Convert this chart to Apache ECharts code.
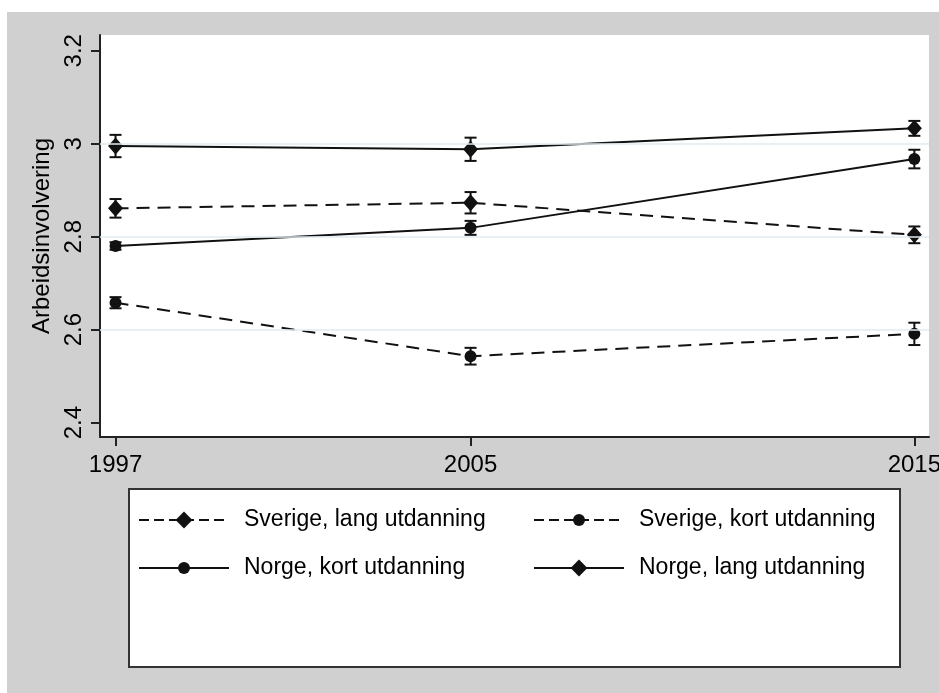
<!DOCTYPE html>
<html>
<head>
<meta charset="utf-8">
<script src="https://cdn.jsdelivr.net/npm/echarts@6/dist/echarts.min.js"></script>
<style>
  html, body { margin: 0; padding: 0; background: #fff; }
  #chart { width: 939px; height: 693px; }
</style>
</head>
<body>
<div id="chart"></div>
<script>
// survey years
var years = [1997, 2005, 2015];
var xTicks = [1997, 2005, 2015];
var yTicks = [2.4, 2.6, 2.8, 3, 3.2];
var gridValues = [2.6, 2.8, 3];

// means and half-width of the confidence interval, per group
var sverigeLang    = [2.861, 2.873, 2.804];
var sverigeLangErr = [0.020, 0.023, 0.018];
var sverigeKort    = [2.658, 2.543, 2.591];
var sverigeKortErr = [0.012, 0.018, 0.024];
var norgeKort      = [2.780, 2.819, 2.967];
var norgeKortErr   = [0.008, 0.015, 0.020];
var norgeLang      = [2.995, 2.988, 3.033];
var norgeLangErr   = [0.024, 0.025, 0.016];

var font = 'Liberation Sans, Arial, sans-serif';
var ink = '#111';

function pairs(vals){
  var out = [];
  for(var i=0;i<years.length;i++){
    out.push([years[i], vals[i]]);
  }
  return out;
}
function ranges(vals, errs){
  var out = [];
  for(var i=0;i<years.length;i++){
    out.push([years[i], vals[i]-errs[i], vals[i]+errs[i]]);
  }
  return out;
}

function errorBar(params, api){
  var x = api.value(0);
  var lo = api.coord([x, api.value(1)]);
  var hi = api.coord([x, api.value(2)]);
  var cap = 6;
  var style = {stroke: ink, lineWidth: 2};
  return {
    type: 'group',
    children: [
      {type:'line', shape:{x1:lo[0], y1:lo[1], x2:hi[0], y2:hi[1]}, style:style},
      {type:'line', shape:{x1:lo[0]-cap, y1:lo[1], x2:lo[0]+cap, y2:lo[1]}, style:style},
      {type:'line', shape:{x1:hi[0]-cap, y1:hi[1], x2:hi[0]+cap, y2:hi[1]}, style:style}
    ]
  };
}

function lineSeries(name, vals, dashed, symbol){
  return {
    name: name,
    type: 'line',
    data: pairs(vals),
    symbol: symbol,
    symbolSize: symbol == 'diamond' ? [15, 17] : 12,
    showSymbol: true,
    z: 3,
    lineStyle: {color: ink, width: 2, type: dashed ? [13, 8] : 'solid'},
    itemStyle: {color: ink},
    emphasis: {disabled: true}
  };
}

function barSeries(vals, errs){
  return {
    type: 'custom',
    renderItem: errorBar,
    data: ranges(vals, errs),
    encode: {x: 0, y: [1, 2]},
    z: 2,
    silent: true
  };
}

// one legend per key, so diamonds and dots can have their own size
function legendKey(name, left, top, iconHeight, dashed){
  var item = {name: name};
  if(dashed){
    item.lineStyle = {type: [10, 5]};
  }
  return {
    orient: 'vertical', left: left, top: top, padding: 0,
    itemWidth: 90, itemHeight: iconHeight,
    textStyle: {fontFamily: font, fontSize: 23, color: '#000', lineHeight: 24, padding: [0,0,0,10]},
    data: [item]
  };
}

var myChart = echarts.init(document.getElementById('chart'));
var option = {
  backgroundColor: '#fff',
  animation: false,
  graphic: [
    {type:'rect', z:-10, shape:{x:7, y:12, width:932, height:681}, style:{fill:'#d0d0d0'}},
    {type:'rect', z:1, shape:{x:129, y:489, width:771, height:178}, style:{fill:'#fff', stroke:'#333', lineWidth:2}}
  ],
  grid: {
    left: 100, top: 35, right: 10, bottom: 256,
    show: true, backgroundColor: '#fff', borderWidth: 0,
    outerBoundsMode: 'none'
  },
  legend: [
    legendKey('Sverige, lang utdanning', 138, 508, 21, true),
    legendKey('Norge, kort utdanning', 138, 556, 15, false),
    legendKey('Sverige, kort utdanning', 533, 508, 15, true),
    legendKey('Norge, lang utdanning', 533, 556, 21, false)
  ],
  xAxis: {
    type: 'value',
    min: 1996.65, max: 2015.33,
    axisLine: {show: true, onZero: false, lineStyle: {color: '#222', width: 2}},
    axisTick: {show: true, length: 9, customValues: xTicks, lineStyle: {color: '#222', width: 2}},
    axisLabel: {
      customValues: xTicks, margin: 16, fontFamily: font, fontSize: 24, color: '#000',
      formatter: function(v){ return String(v); }
    },
    splitLine: {show: false}
  },
  yAxis: {
    type: 'value',
    min: 2.3692, max: 3.2338,
    name: 'Arbeidsinvolvering',
    nameLocation: 'middle',
    nameGap: 38,
    nameTextStyle: {fontFamily: font, fontSize: 24, color: '#000'},
    axisLine: {show: true, onZero: false, lineStyle: {color: '#222', width: 2}},
    axisTick: {show: true, length: 9, customValues: yTicks, lineStyle: {color: '#222', width: 2}},
    axisLabel: {customValues: yTicks, rotate: 90, margin: 14, fontFamily: font, fontSize: 24, color: '#000'},
    splitLine: {show: false}
  },
  series: [
    {
      type: 'line', data: [], silent: true, z: 1,
      markLine: {
        silent: true, symbol: 'none', animation: false,
        label: {show: false},
        lineStyle: {color: '#e2ebef', width: 1.5, type: 'solid'},
        data: gridValues.map(function(v){ return {yAxis: v}; })
      }
    },
    barSeries(sverigeLang, sverigeLangErr),
    barSeries(sverigeKort, sverigeKortErr),
    barSeries(norgeKort, norgeKortErr),
    barSeries(norgeLang, norgeLangErr),
    lineSeries('Sverige, lang utdanning', sverigeLang, true, 'diamond'),
    lineSeries('Sverige, kort utdanning', sverigeKort, true, 'circle'),
    lineSeries('Norge, kort utdanning', norgeKort, false, 'circle'),
    lineSeries('Norge, lang utdanning', norgeLang, false, 'diamond')
  ]
};
myChart.setOption(option);
</script>
</body>
</html>
